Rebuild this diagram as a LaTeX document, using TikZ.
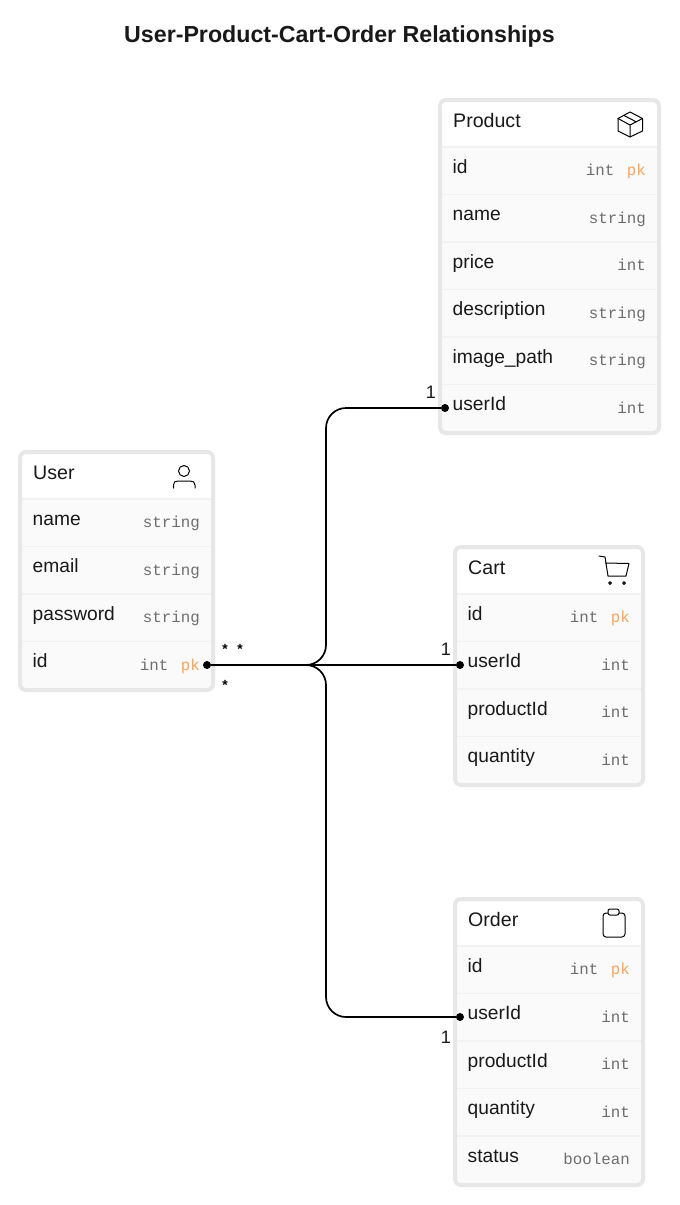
\documentclass[tikz,border=0pt]{standalone}
\usepackage{fontspec}
\setmainfont{Liberation Sans}
\setmonofont{Liberation Mono}
\usetikzlibrary{arrows.meta}

\definecolor{edgegray}{HTML}{E7E7E7}
\definecolor{rowgray}{HTML}{FAFAFA}
\definecolor{sepgray}{HTML}{F2F2F2}
\definecolor{typegray}{HTML}{6E6E6E}
\definecolor{keyorange}{HTML}{F9A45C}

\tikzset{
    entitybox/.style={draw=edgegray, line width=4pt, rounded corners=6pt, inner sep=0pt, outer sep=0pt},
    entitytitle/.style={anchor=base west, inner sep=0pt, font=\fontsize{19.6}{20}\selectfont, text=black!90},
    fieldname/.style={anchor=base west, inner sep=0pt, font=\fontsize{19.2}{20}\selectfont, text=black!90},
    fieldtype/.style={anchor=base east, inner sep=0pt, font=\fontsize{15.8}{18}\selectfont\ttfamily, text=typegray},
    mult/.style={inner sep=0pt, font=\fontsize{18}{18}\selectfont, text=black!90},
    star/.style={inner sep=0pt, font=\fontsize{14}{14}\selectfont\ttfamily\bfseries},
    pin/.style={circle, fill=black, inner sep=0pt, minimum size=8pt},
    link/.style={line width=1.7pt, rounded corners=20pt},
    icon/.style={line width=1pt, line join=round, line cap=round},
}

\newcommand{\pkmark}{\hspace{12.5pt}\textcolor{keyorange}{pk}}

% name, title, left, top, width, height, rows
\newcommand{\entitytable}[7]{
    \fill[white] (#3,#4) rectangle (#3+#5,#4+47);
    \foreach \fname/\ftype [count=\i from 0, evaluate=\i as \ytop using #4+47+47.5*\i] in {#7} {
        \fill[rowgray] (#3,\ytop) rectangle (#3+#5,\ytop+47.5);
        \draw[sepgray, line width=1.3pt] (#3,\ytop) -- (#3+#5,\ytop);
        \node[fieldname] (#1-name-\i) at (#3+12.5,\ytop+26) {\fname};
        \node[fieldtype] (#1-type-\i) at (#3+#5-13,\ytop+28.5) {\ftype};
    }
    \node[entitybox, minimum width=#5pt, minimum height=#6pt] (#1) at ({#3+#5/2},{#4+#6/2}) {};
    \node[entitytitle] (#1-title) at (#3+13,#4+27) {#2};
}

\begin{document}
\begin{tikzpicture}[x=1pt, y=-1pt]
                \useasboundingbox (0,0) rectangle (680,1205);
                \fill[white] (0,0) rectangle (680,1205);

                \node[inner sep=0pt, font=\fontsize{23.2}{24}\selectfont\bfseries, text=black!90] (title) at (339.5,36) {User-Product-Cart-Order Relationships};

                \entitytable{product}{Product}{440}{100}{219}{333}{id/{int\pkmark}, name/string, price/int, description/string, image\_path/string, userId/int}
                \entitytable{user}{User}{20}{452}{193}{238}{name/string, email/string, password/string, id/{int\pkmark}}
                \entitytable{cart}{Cart}{455}{547}{188}{238}{id/{int\pkmark}, userId/int, productId/int, quantity/int}
                \entitytable{order}{Order}{455}{899}{188}{286}{id/{int\pkmark}, userId/int, productId/int, quantity/int, status/boolean}

                % icons
                \draw[icon] (630,112) -- (642.5,118.5) -- (642.5,131) -- (630,137) -- (618,131) -- (618,118.5) -- cycle;
                \draw[icon] (618,118.5) -- (630,125) -- (642.5,118.5) (630,125) -- (630,137) (624,115.5) -- (636.5,122);
                \draw[icon] (184,471) circle (5.5);
                \draw[icon] (173.5,488) -- (173.5,485) .. controls (173.5,482) and (175,481) .. (178,481) -- (190,481) .. controls (193,481) and (195,482) .. (195,485) -- (195,488);
                \draw[icon] (599,556) -- (605,557) -- (608,576) -- (626,576) -- (629,563.5) -- (605.5,563);
                \draw[icon] (610,583) circle (1.4) (624,583) circle (1.4);
                \draw[icon, rounded corners=3pt] (603,913) rectangle (625,937);
                \draw[icon, rounded corners=2pt, fill=white] (608,909) rectangle (619,915);

                % connectors
                \node[pin] (user-pin) at (207,665) {};
                \node[pin] (product-pin) at (445,408) {};
                \node[pin] (cart-pin) at (460,665) {};
                \node[pin] (order-pin) at (460,1017) {};
                \coordinate (trunk) at (326,665);
                \draw[link] (user-pin) -- (trunk) |- (product-pin);
                \draw[link] (user-pin) -- (cart-pin);
                \draw[link] (user-pin) -- (trunk) |- (order-pin);

                \node[mult] (product-one) at (431,392) {1};
                \node[mult] (cart-one) at (446,649) {1};
                \node[mult] (order-one) at (446,1037) {1};
                \node[star] (star-a) at (225,649) {*};
                \node[star] (star-b) at (240,649) {*};
                \node[star] (star-c) at (225,685) {*};
            \end{tikzpicture}
\end{document}
